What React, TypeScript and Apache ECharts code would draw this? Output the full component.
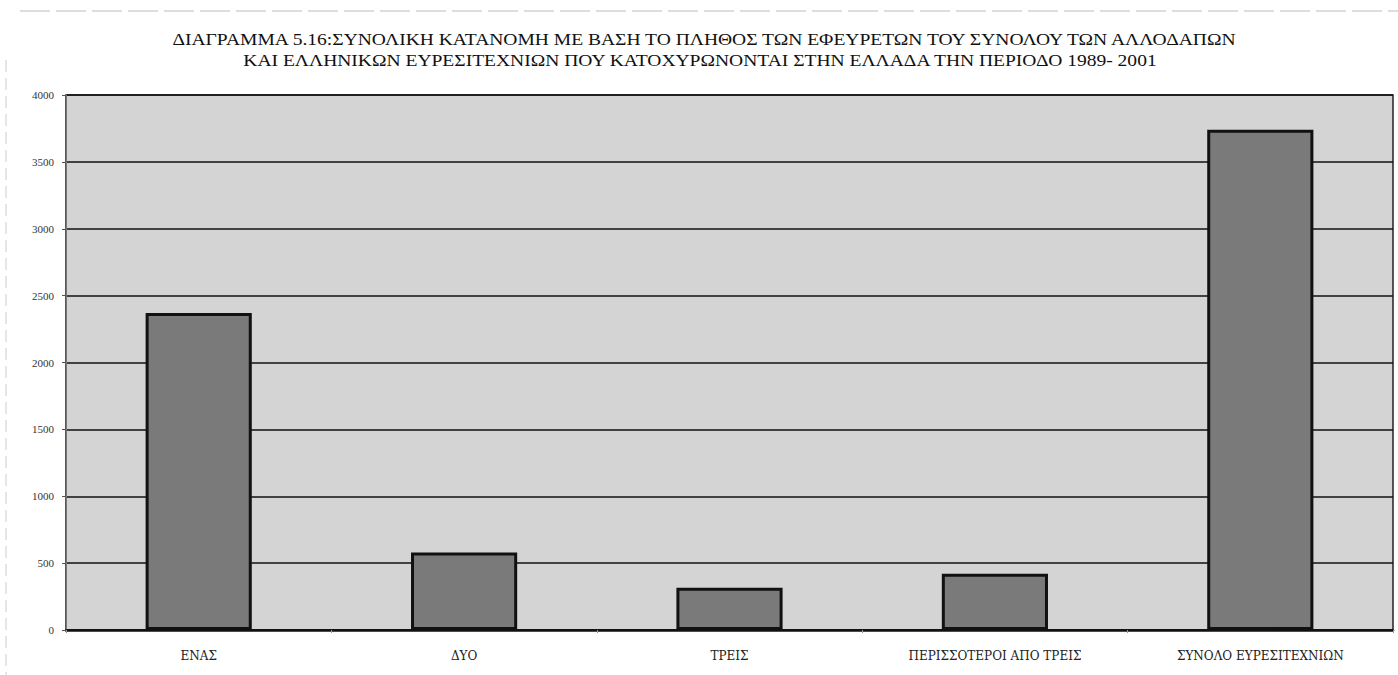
import React, { useEffect, useRef } from "react";
import * as echarts from "echarts";

const titleLines = [
  "ΔΙΑΓΡΑΜΜΑ 5.16:ΣΥΝΟΛΙΚΗ ΚΑΤΑΝΟΜΗ ΜΕ ΒΑΣΗ ΤΟ ΠΛΗΘΟΣ ΤΩΝ ΕΦΕΥΡΕΤΩΝ ΤΟΥ ΣΥΝΟΛΟΥ ΤΩΝ ΑΛΛΟΔΑΠΩΝ",
  "ΚΑΙ ΕΛΛΗΝΙΚΩΝ ΕΥΡΕΣΙΤΕΧΝΙΩΝ ΠΟΥ ΚΑΤΟΧΥΡΩΝΟΝΤΑΙ ΣΤΗΝ ΕΛΛΑΔΑ ΤΗΝ ΠΕΡΙΟΔΟ 1989- 2001",
];
const categories = ["ΕΝΑΣ", "ΔΥΟ", "ΤΡΕΙΣ", "ΠΕΡΙΣΣΟΤΕΡΟΙ ΑΠΟ ΤΡΕΙΣ", "ΣΥΝΟΛΟ ΕΥΡΕΣΙΤΕΧΝΙΩΝ"];
const values = [2370, 580, 315, 420, 3740];
const yMin = 0;
const yMax = 4000;
const yInterval = 500;

const FONT = "'Liberation Serif', 'DejaVu Serif', serif";
const WIDE_FONT = "'DejaVu Serif', 'Liberation Serif', serif";

export default function App() {
  const ref = useRef<HTMLDivElement>(null);
  useEffect(() => {
    if (!ref.current) return;
    const chart = echarts.init(ref.current, null, { renderer: "svg" });
    chart.setOption({
      animation: false,
      backgroundColor: "#ffffff",
      grid: {
        left: 66,
        right: 5,
        top: 95,
        bottom: 45,
        show: true,
        backgroundColor: "#d4d4d4",
        borderColor: "#222",
        borderWidth: 1.5,
      },
      xAxis: {
        type: "category",
        data: categories,
        axisLine: { show: true, lineStyle: { color: "#111", width: 2.5 } },
        axisTick: { show: true, length: 3, lineStyle: { color: "#999" } },
        axisLabel: {
          fontFamily: WIDE_FONT,
          fontSize: 12,
          color: "#222",
          margin: 20,
          interval: 0,
        },
      },
      yAxis: {
        type: "value",
        min: yMin,
        max: yMax,
        interval: yInterval,
        axisLine: { show: true, lineStyle: { color: "#777", width: 1 } },
        axisTick: { show: true, length: 4, lineStyle: { color: "#555" } },
        axisLabel: {
          fontFamily: FONT,
          fontSize: 11,
          color: "#333",
          margin: 12,
          formatter: (v: number) => String(v),
        },
        splitLine: { show: true, lineStyle: { color: "#111", width: 1.5 } },
      },
      series: [
        {
          type: "bar",
          data: values,
          barWidth: "40%",
          itemStyle: {
            color: "#7a7a7a",
            borderColor: "#111",
            borderWidth: 3,
          },
        },
      ],
      graphic: [
        {
          type: "text",
          x: 704,
          y: 39,
          scaleX: 1.15,
          style: {
            text: titleLines[0],
            fontFamily: FONT,
            fontSize: 17,
            fill: "#111",
            textAlign: "center",
            textVerticalAlign: "middle",
          },
        },
        {
          type: "text",
          x: 700,
          y: 60,
          scaleX: 1.15,
          style: {
            text: titleLines[1],
            fontFamily: FONT,
            fontSize: 17,
            fill: "#111",
            textAlign: "center",
            textVerticalAlign: "middle",
          },
        },
        {
          type: "line",
          shape: { x1: 20, y1: 11, x2: 1398, y2: 11 },
          style: { stroke: "#bbb", lineWidth: 1, lineDash: [30, 6] },
        },
        {
          type: "line",
          shape: { x1: 6, y1: 60, x2: 6, y2: 675 },
          style: { stroke: "#ccc", lineWidth: 1, lineDash: [12, 6] },
        },
      ],
    });
    return () => chart.dispose();
  }, []);
  return (
    <div
      ref={ref}
      style={{ position: "fixed", left: 0, top: 0, width: 1398, height: 675 }}
    />
  );
}
